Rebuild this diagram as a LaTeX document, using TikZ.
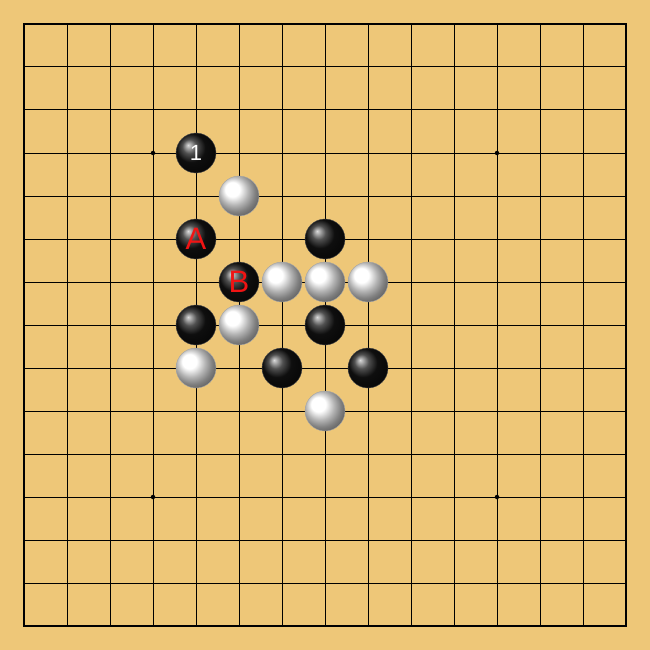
\documentclass[tikz,border=0pt]{standalone}
\usepackage{fontspec}
\setsansfont{Liberation Sans}
\definecolor{boardbg}{RGB}{238,199,120}
\definecolor{stonered}{RGB}{240,20,20}
\tikzset{
  blackstone/.style={circle,minimum size=40pt,inner sep=0pt,shading=ball,ball color=black!92,draw=black!70,line width=0.4pt,font=\sffamily\fontsize{31}{31}\selectfont},
  whitestone/.style={circle,minimum size=40pt,inner sep=0pt,shading=ball,ball color=white,draw=black!35,line width=0.4pt},
  starpt/.style={circle,fill=black,minimum size=4.5pt,inner sep=0pt}
}
\begin{document}
\begin{tikzpicture}[x=1pt,y=-1pt]
\useasboundingbox (0,0) rectangle (650,650);
\fill[boardbg] (0,0) rectangle (650,650);
\foreach \i in {1,...,13} {
  \draw[line width=1pt] ({24+43*\i},24) -- ({24+43*\i},626);
  \draw[line width=1pt] (24,{24+43*\i}) -- (626,{24+43*\i});
}
\draw[line width=2.2pt] (24,24) rectangle (626,626);
\node[starpt] (s1) at (153,153) {};
\node[starpt] (s2) at (497,153) {};
\node[starpt] (s3) at (153,497) {};
\node[starpt] (s4) at (497,497) {};
% stones
\node[blackstone,text=white,font=\sffamily\fontsize{22}{22}\selectfont] (b1) at (196,153) {1};
\node[whitestone] (w1) at (239,196) {};
\node[blackstone,text=stonered] (bA) at (196,239) {A};
\node[blackstone] (b2) at (325,239) {};
\node[blackstone,text=stonered] (bB) at (239,282) {B};
\node[whitestone] (w2) at (282,282) {};
\node[whitestone] (w3) at (325,282) {};
\node[whitestone] (w4) at (368,282) {};
\node[blackstone] (b3) at (196,325) {};
\node[whitestone] (w5) at (239,325) {};
\node[blackstone] (b4) at (325,325) {};
\node[whitestone] (w6) at (196,368) {};
\node[blackstone] (b5) at (282,368) {};
\node[blackstone] (b6) at (368,368) {};
\node[whitestone] (w7) at (325,411) {};
\end{tikzpicture}
\end{document}
